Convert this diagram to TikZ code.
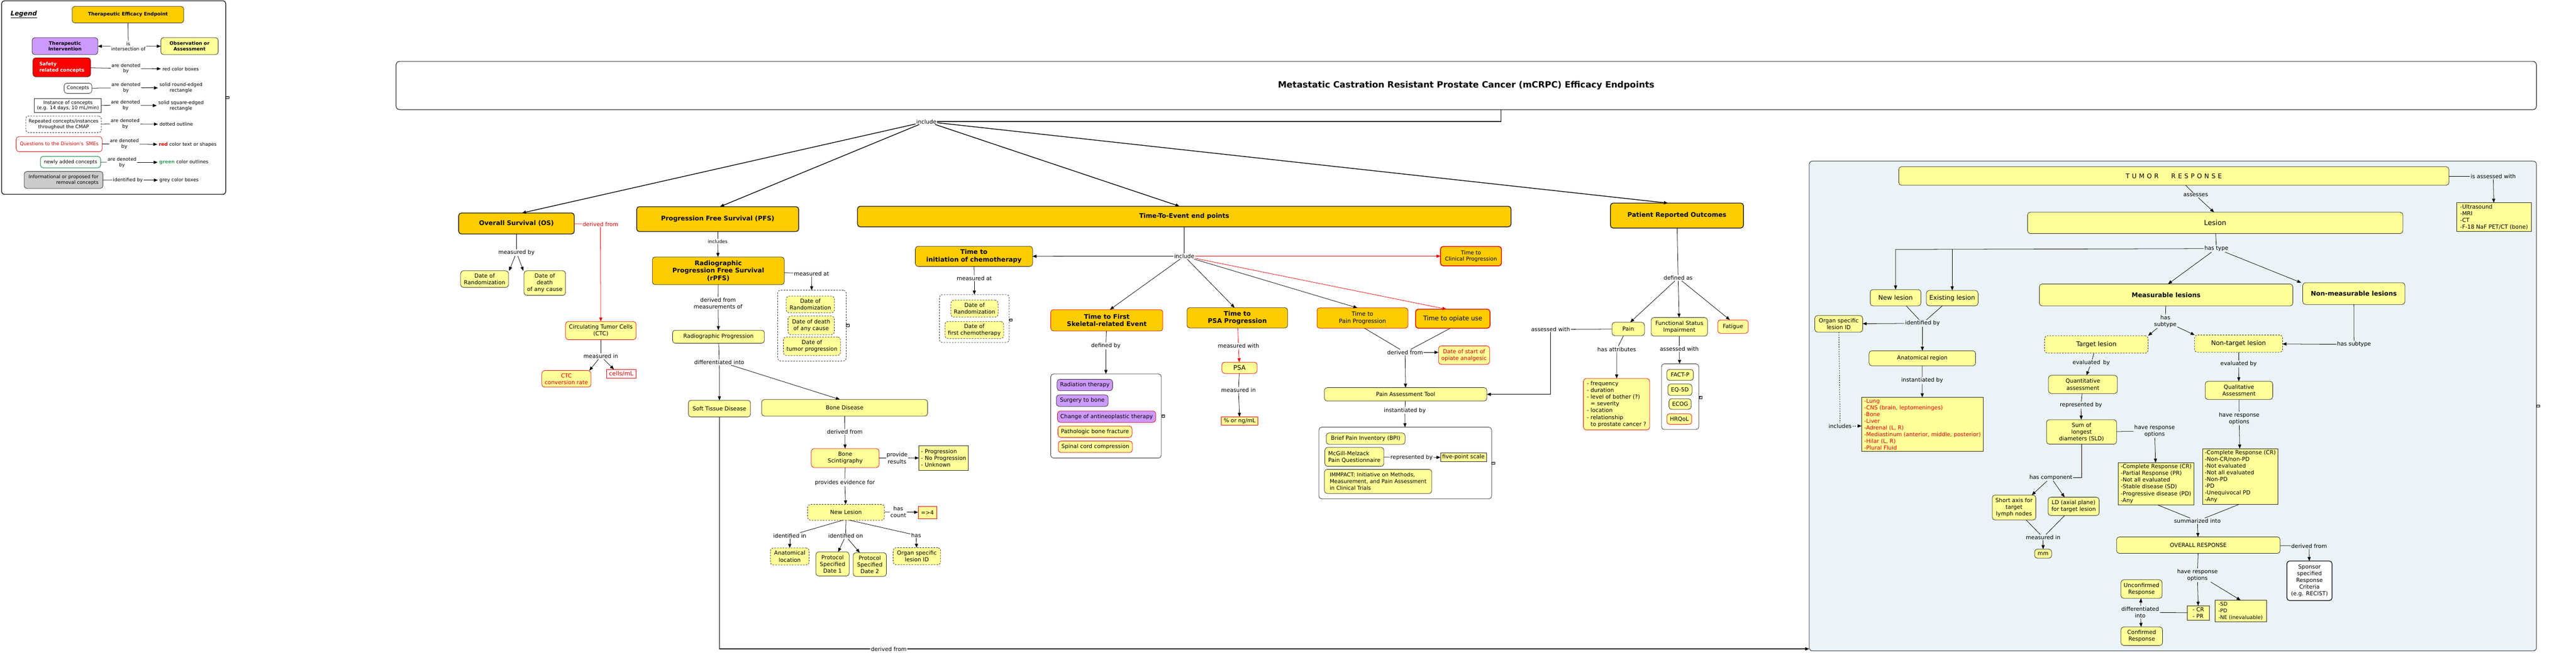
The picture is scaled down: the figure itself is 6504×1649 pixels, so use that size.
\documentclass[tikz,border=0pt]{standalone}
\usepackage{fontspec}
\setmainfont{DejaVu Sans}
\usetikzlibrary{arrows.meta}
\newcommand\fsz[2]{\fontsize{#1}{#2}\selectfont}
\newcommand\tumorresp{T\hspace{6pt}U\hspace{6pt}M\hspace{6pt}O\hspace{6pt}R\hspace{32pt}R\hspace{6pt}E\hspace{6pt}S\hspace{6pt}P\hspace{6pt}O\hspace{6pt}N\hspace{6pt}S\hspace{6pt}E}
\definecolor{orng}{RGB}{255,204,0}
\definecolor{ylw}{RGB}{255,255,153}
\definecolor{purp}{RGB}{204,153,255}
\definecolor{panelc}{RGB}{235,243,246}
\definecolor{rd}{RGB}{230,0,0}
\definecolor{grn}{RGB}{60,160,100}
\definecolor{gry}{RGB}{204,204,204}
\definecolor{bdr}{RGB}{40,40,40}
\tikzset{
 every node/.style={inner sep=0pt,outer sep=0pt},
 bx/.style 2 args={minimum width=#1pt,minimum height=#2pt},
 cbox/.style={draw=bdr,line width=1pt,rounded corners=7pt,fill=ylw,align=center,font=\fsz{14}{17},inner sep=2pt},
 obox/.style={cbox,fill=orng},
 tbox/.style={obox,line width=2pt,font=\fsz{16}{19}\bfseries},
 pbox/.style={cbox,fill=purp},
 rbox/.style={cbox,draw=rd},
 dbox/.style={cbox,dash pattern=on 4pt off 3pt},
 sqbox/.style={cbox,sharp corners},
 cont/.style={draw=bdr,line width=1pt,rounded corners=7pt,fill=white},
 lbl/.style={font=\fsz{14}{17},align=center,inner sep=2pt},
 slbl/.style={font=\fsz{12}{14},align=center,inner sep=2pt},
 conn/.style={line width=1pt,draw=black},
 arr/.style={conn,-{Triangle[length=10pt,width=8pt]}},
 rconn/.style={conn,draw=rd},
 rarr/.style={arr,draw=rd},
 topl/.style={line width=1.8pt},
 icon/.style={draw=black,fill=white,font=\fsz{9}{9},inner sep=0.6pt,line width=0.6pt},
}
\begin{document}
\begin{tikzpicture}[x=1pt,y=-1pt]
\useasboundingbox (0,0) rectangle (6504,1649);

% ================= LEGEND =================
\node[draw=bdr,line width=2pt,rounded corners=8pt,bx={566}{489}] (legframe) at (287,246.5) {};
\node[font=\fsz{16}{19}\bfseries\itshape] (legtitle) at (60,36) {\underline{Legend}};
\node[obox,bx={282}{42},font=\fsz{12}{14}\bfseries] (lgtee) at (323,37) {Therapeutic Efficacy Endpoint};
\node[slbl] (lgio) at (324,117) {is\\intersection of};
\node[pbox,bx={166}{43},font=\fsz{12}{15}\bfseries] (lgti) at (164,116.5) {Therapeutic\\Intervention};
\node[cbox,bx={145}{43},font=\fsz{12}{15}\bfseries] (lgoa) at (478.5,116.5) {Observation or\\Assessment};
\draw[conn] (lgtee) -- (lgio);
\draw[arr] (lgio) -- (lgti);
\draw[arr] (lgio) -- (lgoa);
\node[cbox,fill=red,draw=bdr,bx={146}{48},font=\fsz{12}{16}\bfseries,text=white,align=left] (lgsafe) at (156,170) {Safety\\related concepts};
\node[slbl] (lgl1) at (318,173) {are denoted\\by};
\node[slbl,inner sep=4pt] (lgt1) at (456,174) {red color boxes};
\draw[conn] (lgsafe) -- (lgl1); \draw[arr] (lgl1) -- (lgt1);
\node[cbox,fill=white,bx={70}{26},font=\fsz{12}{14}] (lgcon) at (197,223) {Concepts};
\node[slbl] (lgl2) at (318,222) {are denoted\\by};
\node[slbl,inner sep=4pt] (lgt2) at (457,222) {solid round-edged\\rectangle};
\draw[conn] (lgcon) -- (lgl2); \draw[arr] (lgl2) -- (lgt2);
\node[sqbox,fill=white,bx={169}{35},font=\fsz{12}{14}] (lginst) at (171.5,266.5) {Instance of concepts\\(e.g. 14 days, 10 mL/min)};
\node[slbl] (lgl3) at (317,266) {are denoted\\by};
\node[slbl,inner sep=4pt] (lgt3) at (457,267) {solid square-edged\\rectangle};
\draw[conn] (lginst) -- (lgl3); \draw[arr] (lgl3) -- (lgt3);
\node[dbox,fill=white,bx={191}{42},font=\fsz{12}{14}] (lgrep) at (160.5,314) {Repeated concepts/instances\\throughout the CMAP};
\node[slbl] (lgl4) at (316,313) {are denoted\\by};
\node[slbl,inner sep=4pt] (lgt4) at (445,314) {dotted outline};
\draw[conn] (lgrep) -- (lgl4); \draw[arr] (lgl4) -- (lgt4);
\node[rbox,fill=white,text=rd,bx={217}{38},font=\fsz{12}{14}] (lgq) at (149.5,364) {Questions to the Division's\enspace SMEs};
\node[slbl] (lgl5) at (314,364) {are denoted\\by};
\node[slbl,inner sep=4pt] (lgt5) at (474,365) {\textcolor{rd}{\bfseries red} color text or shapes};
\draw[conn] (lgq) -- (lgl5); \draw[arr] (lgl5) -- (lgt5);
\node[cbox,fill=white,draw=grn,line width=1.6pt,bx={152}{29},font=\fsz{12}{14}] (lgnew) at (178,409.5) {newly added concepts};
\node[slbl] (lgl6) at (308,410) {are denoted\\by};
\node[slbl,inner sep=4pt] (lgt6) at (464,410) {\textcolor{grn}{\bfseries green} color outlines};
\draw[conn] (lgnew) -- (lgl6); \draw[arr] (lgl6) -- (lgt6);
\node[cbox,fill=gry,bx={199}{43},font=\fsz{12}{14},align=right] (lginfo) at (160.5,454.5) {Informational or proposed for\\removal concepts};
\node[slbl] (lgl7) at (323,455) {identified by};
\node[slbl,inner sep=4pt] (lgt7) at (452,455) {grey color boxes};
\draw[conn] (lginfo) -- (lgl7); \draw[arr] (lgl7) -- (lgt7);
\node[icon] (lgicon) at (574,246) {«};

% ================= TITLE =================
\node[cbox,fill=white,line width=1.5pt,rounded corners=9pt,bx={5404}{122},font=\fsz{22}{26}\bfseries] (title) at (3702,216) {Metastatic Castration Resistant Prostate Cancer (mCRPC) Efficacy Endpoints};
\node[lbl] (inc1) at (2339,307) {include};
\coordinate (tj) at (3790,307);
\draw[conn,topl] (title.south -| tj) -- (tj) -- (inc1.east);

% ================= OS =================
\node[tbox,bx={292}{53}] (os) at (1304,564.5) {Overall Survival (OS)};
\node[lbl] (osmb) at (1304,638) {measured by};
\node[cbox,bx={121}{42}] (osdor) at (1223.5,705) {Date of\\Randomization};
\node[cbox,bx={105}{62}] (osdod) at (1375.5,715) {Date of\\death\\of any cause};
\draw[conn] (os) -- (osmb);
\draw[arr] (osmb) -- ([xshift=62pt]osdor.north);
\draw[arr] (osmb) -- ([xshift=-54pt]osdod.north);
\node[lbl,text=rd] (osdf) at (1516,566) {derived from};
\node[rbox,bx={178}{46}] (ctc) at (1517,835) {Circulating Tumor Cells\\(CTC)};
\draw[rconn] (os) -- (osdf);
\draw[rarr] (osdf) -- (ctc);
\node[lbl] (ctcmi) at (1517,900) {measured in};
\node[rbox,text=rd,bx={124}{42}] (ctcconv) at (1430,957) {CTC\\conversion rate};
\node[sqbox,draw=rd,fill=white,text=rd,bx={75}{22},font=\fsz{15}{17}] (cellsml) at (1568.5,944) {cells/mL};
\draw[conn] (ctc) -- (ctcmi);
\draw[arr] (ctcmi) -- ([xshift=-4pt]ctcconv.north east);
\draw[arr] (ctcmi) -- ([xshift=19pt]cellsml.north west);

% ================= PFS =================
\node[tbox,bx={409}{63}] (pfs) at (1812,553.5) {Progression Free Survival (PFS)};
\node[slbl] (pfsinc) at (1812,610) {includes};
\node[obox,bx={333}{70},font=\fsz{16}{19}\bfseries] (rpfs) at (1813.5,684) {Radiographic\\Progression Free Survival\\(rPFS)};
\draw[conn] (pfs) -- (pfsinc); \draw[arr] (pfsinc) -- (rpfs);
\node[lbl] (rpfsma) at (2049,691) {measured at};
\node[cont,dash pattern=on 4pt off 3pt,bx={173}{179}] (cont1) at (2050,822.5) {};
\node[dbox,bx={122}{42}] (p1) at (2046,769) {Date of\\Randomization};
\node[dbox,bx={117}{47}] (p2) at (2048,822) {Date of death\\of any cause};
\node[dbox,bx={144}{47}] (p3) at (2050,874.5) {Date of\\tumor progression};
\node[icon] (icon1) at (2140,822) {«};
\draw[conn] (rpfs) -- (rpfsma); \draw[arr] (rpfsma) -- (cont1);
\node[lbl] (rpfsdf) at (1813,766) {derived from\\measurements of};
\node[cbox,bx={232}{33}] (rp) at (1814,850.5) {Radiographic Progression};
\draw[conn] (rpfs) -- (rpfsdf); \draw[arr] (rpfsdf) -- (rp);
\node[lbl] (rpdi) at (1816,915) {differentiated into};
\node[cbox,bx={157}{42}] (std) at (1816.5,1032) {Soft Tissue Disease};
\node[cbox,bx={419}{42}] (bone) at (2132.5,1030) {Bone Disease};
\draw[conn] (rp) -- (rpdi);
\draw[arr] (rpdi) -- (std);
\draw[arr] ([xshift=30pt]rpdi.south) -- ([xshift=-12pt]bone.north);
\node[lbl] (bonedf) at (2133,1091) {derived from};
\node[rbox,bx={171}{48}] (bsc) at (2134,1157) {Bone\\Scintigraphy};
\draw[conn] (bone) -- (bonedf); \draw[arr] (bonedf) -- (bsc);
\node[lbl] (bscpr) at (2265,1157) {provide\\results};
\node[sqbox,bx={125}{62},align=left] (bscres) at (2382.5,1156.5) {- Progression\\- No Progression\\- Unknown};
\draw[conn] (bsc) -- (bscpr); \draw[arr] (bscpr) -- (bscres);
\node[lbl] (bscpe) at (2133,1219) {provides evidence for};
\node[dbox,bx={194}{40}] (newles) at (2136,1294) {New Lesion};
\draw[conn] (bsc) -- (bscpe); \draw[arr] (bscpe) -- (newles);
\node[lbl] (nlhc) at (2268,1293) {has\\count};
\node[sqbox,draw=rd,bx={47}{31}] (ge4) at (2341.5,1294.5) {=>4};
\draw[conn] (newles) -- (nlhc); \draw[arr] (nlhc) -- (ge4);
\node[lbl] (nlii) at (1994,1353) {identified in};
\node[lbl] (nlio) at (2135,1354) {identified on};
\node[lbl] (nlhas) at (2313,1352) {has};
\node[dbox,bx={98}{43}] (anatloc) at (1994,1405.5) {Anatomical\\location};
\node[cbox,bx={84}{61}] (psd1) at (2102,1424.5) {Protocol\\Specified\\Date 1};
\node[cbox,bx={84}{60}] (psd2) at (2196,1426) {Protocol\\Specified\\Date 2};
\node[dbox,bx={120}{43}] (orgid2) at (2315,1405) {Organ specific\\lesion ID};
\draw[conn] ([xshift=-8pt]newles.south) -- (nlii);
\draw[conn] (newles.south) -- (nlio);
\draw[conn] ([xshift=9pt]newles.south) -- (nlhas);
\draw[arr] (nlii) -- (anatloc);
\draw[arr] (nlio) -- (psd1);
\draw[arr] (nlio) -- (psd2);
\draw[arr] (nlhas) -- (orgid2);

% ================= TIME TO EVENT =================
\node[tbox,bx={1650}{52}] (tte) at (2990,547) {Time-To-Event end points};
\node[lbl] (inc2) at (2990,647) {include};
\draw[conn] (tte) -- (inc2);
\node[obox,bx={296}{51},font=\fsz{16}{19}\bfseries] (chemo) at (2459,647.5) {Time to\\initiation of chemotherapy};
\draw[arr] (inc2) -- (chemo);
\node[lbl] (chma) at (2460,703) {measured at};
\node[cont,dash pattern=on 4pt off 3pt,bx={176}{121}] (cont2) at (2460,804.5) {};
\node[dbox,bx={119}{43}] (c2a) at (2460.5,779.5) {Date of\\Randomization};
\node[dbox,bx={148}{43}] (c2b) at (2460,833.5) {Date of\\first chemotherapy};
\node[icon] (icon2) at (2552,808) {«};
\draw[conn] (chemo) -- (chma); \draw[arr] (chma) -- (cont2);
\node[obox,draw=rd,line width=2pt,bx={154}{49},font=\fsz{13.5}{16}] (tcp) at (3714,647) {Time to\\Clinical Progression};
\draw[rarr] (inc2) -- (tcp);
\node[obox,draw=rd,bx={283}{54},font=\fsz{16}{19}\bfseries] (sre) at (2794.5,809) {Time to First\\Skeletal-related Event};
\node[obox,bx={254}{51.5},font=\fsz{16}{19}\bfseries] (psat) at (3124,802.75) {Time to\\PSA Progression};
\node[obox,draw=rd,bx={230}{51.5},font=\fsz{14.5}{17.5}] (paint) at (3440,803.3) {Time to\\Pain Progression};
\node[obox,draw=rd,line width=2pt,bx={188}{48},font=\fsz{16}{19}] (opit) at (3668,805) {Time to opiate use};
\draw[arr] (inc2) -- ([xshift=8pt]sre.north);
\draw[arr] (inc2) -- ([xshift=-7pt]psat.north);
\draw[arr] (inc2) -- ([xshift=-13pt]paint.north);
\draw[rarr] (inc2) -- ([xshift=-16pt]opit.north);
% SRE
\node[lbl] (sredb) at (2792,873.5) {defined by};
\node[cont,bx={279}{212.5}] (cont3) at (2792.5,1050.75) {};
\node[pbox,bx={140}{29}] (rt) at (2739,972.5) {Radiation therapy};
\node[pbox,bx={131}{29}] (sb) at (2732.5,1012) {Surgery to bone};
\node[pbox,draw=rd,bx={248}{29}] (cat) at (2794,1052.5) {Change of antineoplastic therapy};
\node[rbox,bx={187}{29}] (pbf) at (2764.5,1090.5) {Pathologic bone fracture};
\node[rbox,bx={187}{29}] (scc) at (2765.5,1128.5) {Spinal cord compression};
\node[icon] (icon3) at (2937,1051) {«};
\draw[conn] (sre) -- (sredb); \draw[arr] (sredb) -- (cont3);
% PSA
\node[lbl] (psamw) at (3127,874) {measured with};
\node[rbox,bx={89}{28.5},font=\fsz{16}{19}] (psa) at (3129.5,929) {PSA};
\draw[rconn] (psat) -- (psamw); \draw[rarr] (psamw) -- (psa);
\node[lbl] (psami) at (3127,985) {measured in};
\node[sqbox,draw=rd,bx={92}{20.5}] (psaunit) at (3130,1063) {\% or ng/mL};
\draw[conn] (psa) -- (psami); \draw[arr] (psami) -- (psaunit);
% Pain
\node[lbl] (pdf) at (3547.5,890) {derived from};
\node[rbox,text=rd,bx={129}{47}] (dso) at (3696.5,897) {Date of start of\\opiate analgesic};
\node[cbox,bx={410}{34}] (paintool) at (3549,996) {Pain Assessment Tool};
\draw[conn] ([xshift=5pt]paint.south) -- (pdf);
\draw[conn] ([xshift=-6pt]opit.south) -- (pdf);
\draw[arr] (pdf.east) -- (dso.west |- pdf.east);
\draw[arr] (pdf) -- (paintool);
\node[lbl] (ptib) at (3547,1037) {instantiated by};
\node[cont,bx={436}{181}] (cont5) at (3548,1169.5) {};
\node[cbox,bx={199}{29}] (bpi) at (3448,1108) {Brief Pain Inventory (BPI)};
\node[cbox,bx={149}{48},align=left] (mcg) at (3419.5,1154) {McGill-Melzack\\Pain Questionnaire};
\node[lbl] (mcgrb) at (3564,1155.5) {represented by};
\node[sqbox,bx={116}{21}] (fps) at (3695,1155) {five-point scale};
\node[cbox,bx={271}{61},align=left,font=\fsz{13.5}{17}] (imm) at (3479.5,1216) {IMMPACT: Initiative on Methods,\\Measurement, and Pain Assessment\\in Clinical Trials};
\node[icon] (icon5) at (3770,1169.5) {«};
\draw[conn] (paintool) -- (ptib); \draw[arr] (ptib) -- (cont5);
\draw[conn] (mcg) -- (mcgrb); \draw[arr] (mcgrb) -- (fps);

% ================= PRO =================
\node[tbox,bx={336}{63}] (pro) at (4234,544.5) {Patient Reported Outcomes};
\node[lbl] (prodf) at (4237,702) {defined as};
\node[cbox,bx={82}{34}] (painn) at (4111,831) {Pain};
\node[cbox,bx={142}{47}] (fsi) at (4240,825.5) {Functional Status\\Impairment};
\node[rbox,bx={77}{34}] (fatigue) at (4375.5,825) {Fatigue};
\draw[conn] (pro) -- (prodf);
\draw[arr] (prodf) -- ([xshift=5pt]painn.north);
\draw[arr] (prodf) -- (fsi);
\draw[arr] (prodf) -- ([xshift=-8pt]fatigue.north);
\node[lbl] (painha) at (4082,882) {has attributes};
\node[rbox,bx={167}{130},align=left] (attr) at (4081.5,1021) {- frequency\\- duration\\- level of bother (?)\\\hphantom{- }= severity\\- location\\- relationship\\\hphantom{- }to prostate cancer ?};
\draw[conn] ([xshift=-12pt]painn.south) -- (painha); \draw[arr] (painha) -- (attr);
\node[lbl] (fsiaw) at (4240,881) {assessed with};
\node[cont,bx={94}{166}] (cont4) at (4242,1002) {};
\node[cbox,bx={67}{28}] (factp) at (4242,947) {FACT-P};
\node[cbox,bx={61}{29}] (eq5d) at (4241.5,984.5) {EQ-5D};
\node[cbox,bx={56}{27}] (ecog) at (4242,1020.5) {ECOG};
\node[rbox,bx={63}{27}] (hrqol) at (4240,1058.5) {HRQoL};
\node[icon] (icon4) at (4293,1004) {«};
\draw[conn] (fsi) -- (fsiaw); \draw[arr] (fsiaw) -- (cont4);
\node[lbl] (paw) at (3915,832) {assessed with};
\draw[conn] (painn) -- (paw);
\draw[arr] (paw.south) |- (paintool.east);

% top level include connectors
\draw[arr,topl] (inc1) -- ([xshift=14pt]os.north);
\draw[arr,topl] (inc1) -- ([xshift=6pt]pfs.north);
\draw[arr,topl] (inc1) -- ([xshift=-12pt]tte.north);
\draw[arr,topl] (inc1) -- ([xshift=-23pt]pro.north);

% ================= TUMOR RESPONSE PANEL =================
\node[draw=bdr,line width=1.2pt,fill=panelc,rounded corners=8pt,bx={1836}{1237}] (tpanel) at (5486,1025.5) {};
\node[icon] (icon6) at (6408,1025) {«};
\node[cbox,bx={1389}{47},font=\fsz{16}{19}] (tr) at (5488.5,444.5) {\tumorresp};
\node[lbl] (trisa) at (6295,445.6) {is assessed with};
\node[sqbox,bx={188}{73},align=left] (img) at (6297,548.5) {-Ultrasound\\-MRI\\-CT\\-F-18 NaF PET/CT (bone)};
\draw[conn] (tr) -- (trisa); \draw[arr] (trisa) -- (img);
\node[lbl] (trass) at (5543.6,493) {assesses};
\node[cbox,bx={947.5}{54},font=\fsz{17.5}{21}] (lesion) at (5593,563) {Lesion};
\draw[conn] ([xshift=30pt]tr.south) -- (trass); \draw[arr] (trass) -- ([xshift=-3pt]lesion.north);
\node[lbl] (lht) at (5596,628) {has type};
\draw[conn] (lesion) -- (lht);
\node[cbox,bx={128}{41.5},font=\fsz{16}{19}] (newl) at (4786,752) {New lesion};
\node[cbox,bx={130.5}{39},font=\fsz{16}{19}] (exl) at (4929,753) {Existing lesion};
\node[cbox,bx={640}{55.5},font=\fsz{16}{19}\bfseries] (meas) at (5469,745) {Measurable lesions};
\node[cbox,bx={258}{55},font=\fsz{16}{19}\bfseries] (nonmeas) at (5943,741.5) {Non-measurable lesions};
\coordinate (lhc1) at (4786,630);
\coordinate (lhc2) at (4929,630);
\draw[arr] (lht.west) -- (lhc1) -- (newl);
\draw[arr] (lhc2) -- (exl);
\draw[arr] (lht) -- ([xshift=5pt]meas.north);
\draw[arr] (lht) -- ([xshift=-4pt]nonmeas.north west);
\node[lbl] (lid) at (4854,816.6) {identified by};
\node[cbox,bx={121}{42}] (org1) at (4642.5,818) {Organ specific\\lesion ID};
\node[cbox,bx={269}{38}] (anatreg) at (4853.5,905) {Anatomical region};
\draw[conn] ([xshift=27pt]newl.south) -- (lid);
\draw[conn] ([xshift=-25pt]exl.south) -- (lid);
\draw[arr] (lid) -- (org1);
\draw[arr] (lid) -- (anatreg);
\node[lbl] (arib) at (4853,961) {instantiated by};
\node[sqbox,bx={307.6}{137},align=left,text=rd] (anatlist) at (4854,1072) {-Lung\\-CNS (brain, leptomeninges)\\-Bone\\-Liver\\-Adrenal (L, R)\\-Mediastinum (anterior, middle, posterior)\\-Hilar (L, R)\\-Plural Fluid};
\draw[conn] (anatreg) -- (arib); \draw[arr] (arib) -- (anatlist);
\node[lbl] (orginc) at (4646,1076) {includes};
\draw[conn,dashed] (org1) -- (orginc);
\draw[arr,dashed] (orginc) -- (anatlist.west |- orginc);
% measurable
\node[lbl] (mhs) at (5467,811.5) {has\\subtype};
\node[dbox,bx={261.5}{44},font=\fsz{16}{19}] (tgt) at (5293,870) {Target lesion};
\node[dbox,bx={222}{43.6},font=\fsz{16}{19}] (nontgt) at (5652,868) {Non-target lesion};
\draw[conn] (meas) -- (mhs);
\draw[arr] (mhs) -- (tgt.north east);
\draw[arr] (mhs) -- (nontgt.north west);
\node[lbl] (teb) at (5280,917) {evaluated\enspace by};
\node[cbox,bx={174}{46}] (quant) at (5259,971) {Quantitative\\assessment};
\draw[conn] (tgt) -- (teb); \draw[arr] (teb) -- (quant);
\node[lbl] (qrb) at (5254,1023.5) {represented by};
\node[cbox,bx={177}{62}] (sld) at (5255.5,1091) {Sum of\\longest\\diameters (SLD)};
\draw[conn] (quant) -- (qrb); \draw[arr] (qrb) -- (sld);
\node[lbl] (shc) at (5178,1206) {has component};
\draw[conn] (sld.south) |- (shc.east);
\node[cbox,bx={110}{63}] (shortax) at (5085,1282) {Short axis for\\target\\lymph nodes};
\node[cbox,bx={129}{46.5}] (ldax) at (5235.5,1279) {LD (axial plane)\\for target lesion};
\draw[arr] (shc) -- ([xshift=-10pt]shortax.north east);
\draw[arr] (shc) -- ([xshift=-23pt]ldax.north);
\node[lbl] (smi) at (5158.5,1357.5) {measured in};
\node[cbox,bx={43}{23}] (mm) at (5158.5,1398.5) {mm};
\draw[conn] (shortax) -- (smi); \draw[conn] (ldax) -- (smi); \draw[arr] (smi) -- (mm);
\node[lbl] (shro) at (5440,1089) {have response\\options};
\node[sqbox,bx={191.6}{107},align=left] (tro) at (5444,1222) {-Complete Response (CR)\\-Partial Response (PR)\\-Not all evaluated\\-Stable disease (SD)\\-Progressive disease (PD)\\-Any};
\draw[conn] (sld) -- (shro); \draw[arr] (shro) -- (tro);
% non-measurable
\node[lbl] (nmhs) at (5943.5,870) {has subtype};
\draw[conn] (nonmeas) -- (nmhs); \draw[arr] (nmhs) -- (nontgt);
\node[lbl] (nteb) at (5652,919.5) {evaluated by};
\node[cbox,bx={170.5}{46}] (qual) at (5653,986) {Qualitative\\Assessment};
\draw[conn] (nontgt) -- (nteb); \draw[arr] (nteb) -- (qual);
\node[lbl] (qro) at (5653.5,1057) {have response\\options};
\node[sqbox,bx={190.6}{141},align=left] (ntro) at (5656.3,1203.5) {-Complete Response (CR)\\-Non-CR/non-PD\\-Not evaluated\\-Not all evaluated\\-Non-PD\\-PD\\-Unequivocal PD\\-Any};
\draw[conn] (qual) -- (qro); \draw[arr] (qro) -- (ntro);
% overall
\node[lbl] (sumi) at (5548,1316) {summarized into};
\node[cbox,bx={413}{41.6}] (ovr) at (5550.4,1377) {OVERALL RESPONSE};
\draw[conn] ([xshift=4pt]tro.south) -- (sumi);
\draw[conn] ([xshift=-3pt]ntro.south) -- (sumi);
\draw[arr] (sumi) -- (ovr);
\node[lbl] (ovdf) at (5830,1379) {derived from};
\node[cbox,fill=white,line width=2pt,bx={114}{100}] (spons) at (5831,1467) {Sponsor\\specified\\Response\\Criteria\\(e.g. RECIST)};
\draw[conn] (ovr) -- (ovdf); \draw[arr] (ovdf) -- (spons);
\node[lbl] (ovhro) at (5548,1453) {have response\\options};
\node[sqbox,bx={55}{36},align=left] (crpr) at (5550.4,1548) {- CR\\- PR};
\node[sqbox,bx={130}{55},align=left,font=\fsz{13}{17}] (sdpd) at (5657,1543.5) {-SD\\-PD\\-NE (inevaluable)};
\draw[conn] (ovr) -- (ovhro);
\draw[arr] (ovhro) -- (crpr);
\draw[arr] ([xshift=34pt]ovhro.south) -- (sdpd.north);
\node[lbl] (ovdi) at (5403.7,1546.6) {differentiated\\into};
\node[cbox,bx={104}{47}] (uncon) at (5407,1488) {Unconfirmed\\Response};
\node[cbox,bx={105}{47}] (conf) at (5407.5,1607) {Confirmed\\Response};
\draw[conn] (crpr) -- (ovdi);
\draw[arr] (ovdi) -- (uncon);
\draw[arr] (ovdi) -- (conf);

% bottom connector from soft tissue disease to tumor response
\node[lbl] (stddf) at (2244,1639) {derived from};
\draw[conn,line width=1.5pt] (std) |- (stddf);
\draw[arr,line width=1.5pt] (stddf) -- (stddf -| tpanel.west);
\end{tikzpicture}
\end{document}
